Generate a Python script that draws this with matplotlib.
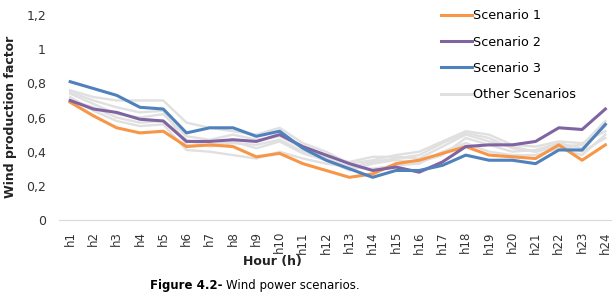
import numpy as np
import matplotlib
matplotlib.use("Agg")
import matplotlib.pyplot as plt

hours = ["h%d" % i for i in range(1, 25)]

scenario_1 = [0.69, 0.61, 0.54, 0.51, 0.52, 0.43, 0.44, 0.43, 0.37, 0.39, 0.33, 0.29,
              0.25, 0.27, 0.33, 0.35, 0.39, 0.43, 0.38, 0.37, 0.36, 0.44, 0.35, 0.44]
scenario_2 = [0.70, 0.65, 0.63, 0.59, 0.58, 0.46, 0.46, 0.47, 0.46, 0.50, 0.43, 0.38,
              0.33, 0.29, 0.31, 0.28, 0.34, 0.43, 0.44, 0.44, 0.46, 0.54, 0.53, 0.65]
scenario_3 = [0.81, 0.77, 0.73, 0.66, 0.65, 0.51, 0.54, 0.54, 0.49, 0.52, 0.42, 0.35,
              0.30, 0.25, 0.29, 0.29, 0.32, 0.38, 0.35, 0.35, 0.33, 0.41, 0.41, 0.56]

# the faint grey ones
others = [
    [0.76, 0.72, 0.70, 0.70, 0.70, 0.57, 0.54, 0.52, 0.50, 0.54, 0.45, 0.40,
     0.33, 0.35, 0.38, 0.40, 0.46, 0.52, 0.50, 0.44, 0.43, 0.46, 0.45, 0.52],
    [0.74, 0.68, 0.62, 0.60, 0.62, 0.49, 0.47, 0.50, 0.47, 0.49, 0.42, 0.37,
     0.34, 0.37, 0.37, 0.36, 0.43, 0.50, 0.46, 0.43, 0.40, 0.43, 0.44, 0.58],
    [0.72, 0.64, 0.58, 0.55, 0.56, 0.41, 0.40, 0.38, 0.36, 0.40, 0.36, 0.33,
     0.31, 0.30, 0.32, 0.33, 0.40, 0.45, 0.40, 0.38, 0.38, 0.42, 0.38, 0.50],
    [0.75, 0.70, 0.66, 0.63, 0.64, 0.44, 0.44, 0.46, 0.42, 0.46, 0.39, 0.35,
     0.29, 0.33, 0.35, 0.34, 0.38, 0.48, 0.44, 0.40, 0.41, 0.45, 0.42, 0.55],
    [0.70, 0.66, 0.60, 0.57, 0.58, 0.47, 0.43, 0.45, 0.44, 0.47, 0.40, 0.36,
     0.31, 0.34, 0.36, 0.38, 0.45, 0.51, 0.48, 0.42, 0.40, 0.44, 0.40, 0.48],
]

yticks = [0, 0.2, 0.4, 0.6, 0.8, 1.0, 1.2]
ytick_labels = ["0", "0,2", "0,4", "0,6", "0,8", "1", "1,2"]

plt.rcParams["font.family"] = "DejaVu Sans"

fig = plt.figure(figsize=(6.12, 2.94), dpi=100)
ax = fig.add_axes([0.0956, 0.2517, 0.9126, 0.697])

x = np.arange(len(hours))
for s in others:
    ax.plot(x, s, color="#e0e0e0", lw=1.7, solid_joinstyle="round")
l1, = ax.plot(x, scenario_1, color="#F79646", lw=2.2, label="Scenario 1")
l2, = ax.plot(x, scenario_2, color="#8064A2", lw=2.2, label="Scenario 2")
l3, = ax.plot(x, scenario_3, color="#4F81BD", lw=2.2, label="Scenario 3")
lo, = ax.plot([], [], color="#e0e0e0", lw=2.2, label="Other Scenarios")

ax.set_xlim(-0.5, len(hours) - 0.5)
ax.set_ylim(0, 1.2)
ax.set_xticks(x)
ax.set_xticklabels(hours, rotation=90, fontsize=8.5, color="#333333")
ax.set_yticks(yticks)
ax.set_yticklabels(ytick_labels, fontsize=9, color="#333333")
ax.tick_params(axis="both", length=0)
ax.tick_params(axis="y", pad=9)
ax.tick_params(axis="x", pad=8)

for side in ["top", "right", "left"]:
    ax.spines[side].set_visible(False)
ax.spines["bottom"].set_color("#d9d9d9")

fig.text(11 / 612, 1 - 117 / 294, "Wind production factor", rotation=90,
         ha="center", va="center", fontsize=9, fontweight="bold", color="#222222")
fig.text(272 / 612, 1 - 262 / 294, "Hour (h)", ha="center", va="center",
         fontsize=9, fontweight="bold", color="#222222")
fig.text(223 / 612, 1 - 285 / 294, "Figure 4.2-", ha="right", va="center",
         fontsize=8.5, fontweight="bold")
fig.text(226 / 612, 1 - 285 / 294, "Wind power scenarios.", ha="left", va="center",
         fontsize=8.5)

fig.legend(handles=[l1, l2, l3, lo], loc="upper left",
           bbox_to_anchor=(436 / 612, 1 - 4 / 294), frameon=False,
           fontsize=9.2, handlelength=2.4, handletextpad=0.1,
           labelspacing=1.05, borderaxespad=0)

fig.savefig("out.png", dpi=100)
